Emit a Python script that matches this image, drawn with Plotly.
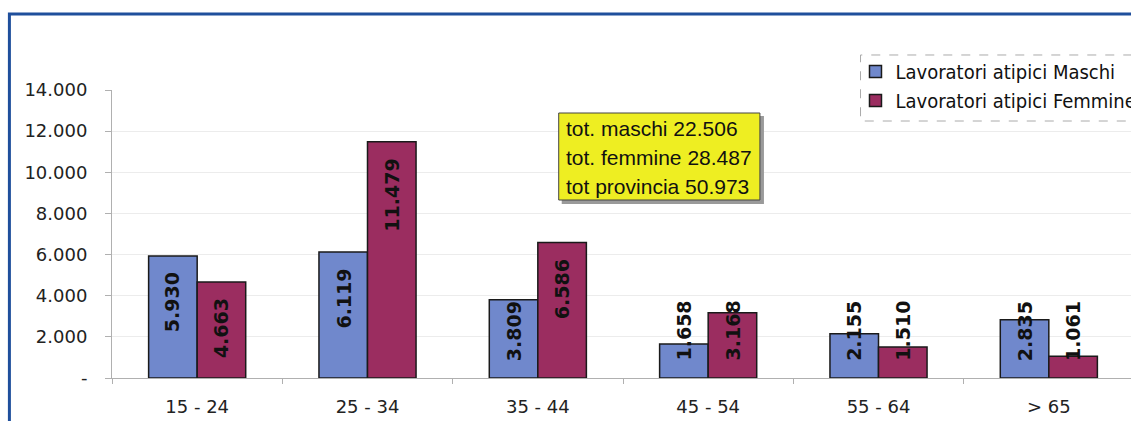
import plotly.graph_objects as go

categories = ["15 - 24", "25 - 34", "35 - 44", "45 - 54", "55 - 64", "> 65"]
maschi = [5930, 6119, 3809, 1658, 2155, 2835]
femmine = [4663, 11479, 6586, 3168, 1510, 1061]
maschi_labels = ["5.930", "6.119", "3.809", "1.658", "2.155", "2.835"]
femmine_labels = ["4.663", "11.479", "6.586", "3.168", "1.510", "1.061"]
tick_vals = [0, 2000, 4000, 6000, 8000, 10000, 12000, 14000]
tick_text = ["-", "2.000", "4.000", "6.000", "8.000", "10.000", "12.000", "14.000"]
box_lines = ["tot. maschi 22.506", "tot. femmine 28.487", "tot provincia 50.973"]

# the photographed page comes out slightly narrower than laid out, so lay it out a bit wider
SX = 1116 / 1131
DX = -3
W, H = 1146, 421
L, R, T, B = 111.5, 5, 90, 43
plot_w = W - L - R
plot_h = H - T - B
bargap = 0.43
cat_px = plot_w / len(categories)
half_bar_px = (1 - bargap) * cat_px / 4


def px(xi, yi):
    """picture pixel -> paper coordinates"""
    return (xi / SX + DX - L) / plot_w, (H - B - yi) / plot_h


fig = go.Figure()
fig.add_trace(go.Bar(name="Lavoratori atipici Maschi", x=categories, y=maschi,
                     marker=dict(color="#7088cc", line=dict(color="#1a1a1a", width=1.5))))
fig.add_trace(go.Bar(name="Lavoratori atipici Femmine", x=categories, y=femmine,
                     marker=dict(color="#9b2d60", line=dict(color="#1a1a1a", width=1.5))))

annotations = []
for vals, labs, sign in [(maschi, maschi_labels, -1), (femmine, femmine_labels, 1)]:
    for c, v, lab in zip(categories, vals, labs):
        annotations.append(dict(x=c, y=max(v - 700, 3850), xref="x", yref="y",
                                text="<b>" + lab + "</b>", textangle=-90, showarrow=False,
                                xshift=sign * half_bar_px, yanchor="top", xanchor="center",
                                font=dict(family="DejaVu Sans", size=19, color="#111")))

# yellow totals box lines
for i, line in enumerate(box_lines):
    tx, ty = px(562, 128 + i * 29)
    annotations.append(dict(x=tx, y=ty, xref="paper", yref="paper",
                            text=line, showarrow=False, xanchor="left", yanchor="middle",
                            font=dict(family="Liberation Sans", size=21, color="#111")))


def path(points):
    s = ""
    for i, (a, b) in enumerate(points):
        xa, yb = px(a, b)
        s += ("M" if i == 0 else "L") + f"{xa:.5f},{yb:.5f}"
    return s


bx0, by0 = px(557, 113)
bx1, by1 = px(757, 200)
sx0, sy0 = px(560, 116)
sx1, sy1 = px(761, 204)
shapes = [
    # outer blue frame (top and left edges; the rest is off the picture)
    dict(type="path", xref="paper", yref="paper", path=path([(1145, 14), (11, 14), (11, H)]),
         line=dict(color="#1f4f9c", width=3), layer="above"),
    # box shadow
    dict(type="rect", xref="paper", yref="paper", x0=sx0, x1=sx1, y0=sy1, y1=sy0,
         line=dict(width=0), fillcolor="#9a9a9a", layer="above"),
    # yellow box
    dict(type="rect", xref="paper", yref="paper", x0=bx0, x1=bx1, y0=by1, y1=by0,
         line=dict(color="#444", width=1), fillcolor="#eeee22", layer="above"),
    # legend dashed border (top, left, bottom)
    dict(type="path", xref="paper", yref="paper", path=path([(1145, 55), (857, 55), (857, 121), (1145, 121)]),
         line=dict(color="#aaaaaa", width=1, dash="dash"), layer="above"),
]

fig.update_layout(
    width=W, height=H,
    margin=dict(l=L, r=R, t=T, b=B),
    paper_bgcolor="white", plot_bgcolor="white",
    barmode="group", bargap=bargap, bargroupgap=0,
    showlegend=True,
    legend=dict(x=px(852, 0)[0], y=px(0, 52)[1], xanchor="left", yanchor="top", bgcolor="rgba(0,0,0,0)",
                font=dict(family="DejaVu Sans Condensed, DejaVu Sans", size=20, color="#111"),
                itemwidth=30, tracegroupgap=0, traceorder="normal"),
    xaxis=dict(showline=True, linecolor="#b0b0b0", linewidth=1, ticks="outside", tickson="boundaries",
               ticklen=5, tickcolor="#b0b0b0", showgrid=False, ticklabelstandoff=12,
               tickfont=dict(family="DejaVu Sans", size=18, color="#222")),
    yaxis=dict(range=[0, 14000], tickvals=tick_vals, ticktext=tick_text, showline=True,
               linecolor="#b0b0b0", linewidth=1, ticks="outside", ticklen=6, tickcolor="#b0b0b0",
               showgrid=True, gridcolor="#ececec", gridwidth=1, zeroline=False, ticklabelstandoff=14,
               tickfont=dict(family="DejaVu Sans", size=18, color="#222")),
    annotations=annotations,
    shapes=shapes,
)

page_fix = "document.body.style.margin='0';document.body.style.overflow='hidden';"
fig.write_html("out.html", post_script=page_fix, config={"displayModeBar": False})
